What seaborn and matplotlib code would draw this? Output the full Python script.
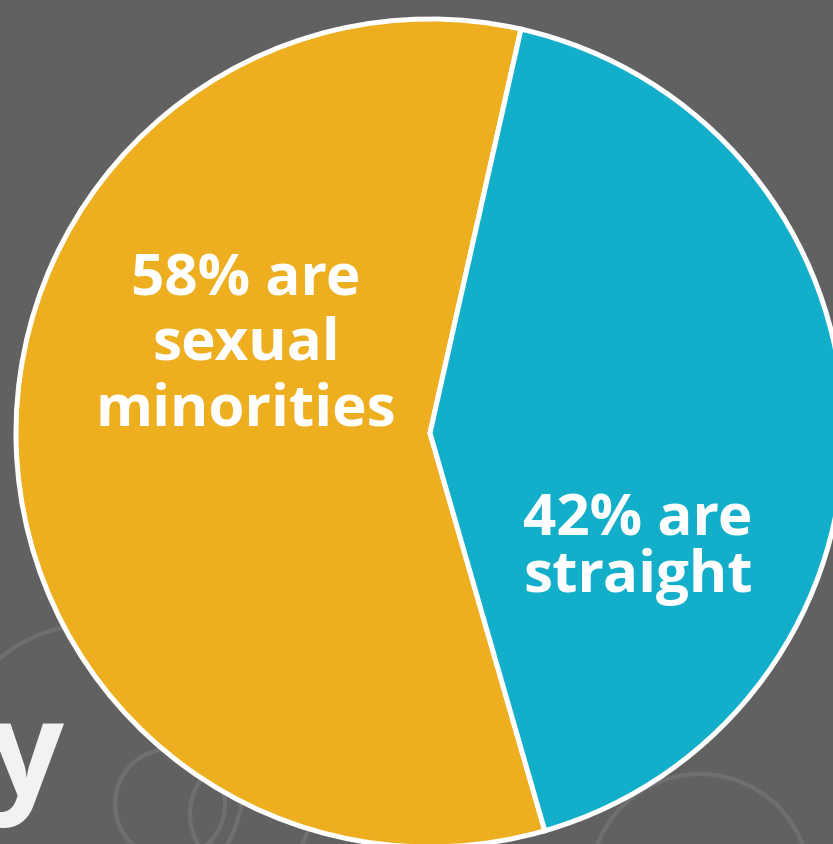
import matplotlib
matplotlib.use("Agg")
import matplotlib.pyplot as plt
import seaborn as sns
from matplotlib.patches import Circle

# Survey breakdown
categories = ["sexual minorities", "straight"]
shares = [58, 42]
colors = ["#EDAE1F", "#13AFCA"]

sns.set_theme(style="dark")
plt.rcParams["font.family"] = ["Open Sans", "DejaVu Sans"]

W, H = 833, 844
fig = plt.figure(figsize=(W / 100, H / 100), dpi=100)
fig.patch.set_facecolor("#616161")
ax = fig.add_axes([0, 0, 1, 1])
ax.set_facecolor("#616161")

# faint wire-like rings in the backdrop
for (x0, y0, r) in [(95, 70, 150), (170, 40, 55), (700, -40, 110), (250, 30, 60)]:
    ax.add_patch(Circle((x0, y0), r, fill=False, edgecolor="#7a7a7a",
                        linewidth=3, alpha=0.6, zorder=0))

cx, cy, radius = 430, H - 433, 414
wedges, _ = ax.pie(
    shares,
    colors=colors,
    startangle=77.3,
    counterclock=True,
    center=(cx, cy),
    radius=radius,
    wedgeprops=dict(edgecolor="white", linewidth=3.6),
)
for w in wedges:
    w.set_zorder(2)

ax.set_xlim(0, W)
ax.set_ylim(0, H)
ax.set_aspect("equal")
ax.axis("off")

label_style = dict(color="white", fontsize=42, fontweight="bold",
                   ha="center", va="baseline", zorder=3)


def stacked_label(x, baselines, lines):
    for yb, line in zip(baselines, lines):
        ax.text(x, H - yb, line, **label_style)


stacked_label(246, [295, 360, 425], [f"{shares[0]}% are", "sexual", "minorities"])
stacked_label(638, [535, 592], [f"{shares[1]}% are", categories[1]])

# tail of the headline word running off the left edge
ax.text(63, H - 796, "y", color="#f2f2f2", fontsize=95, fontweight="bold",
        ha="right", va="baseline", zorder=1)

fig.savefig("out.png", dpi=100, facecolor=fig.get_facecolor())
